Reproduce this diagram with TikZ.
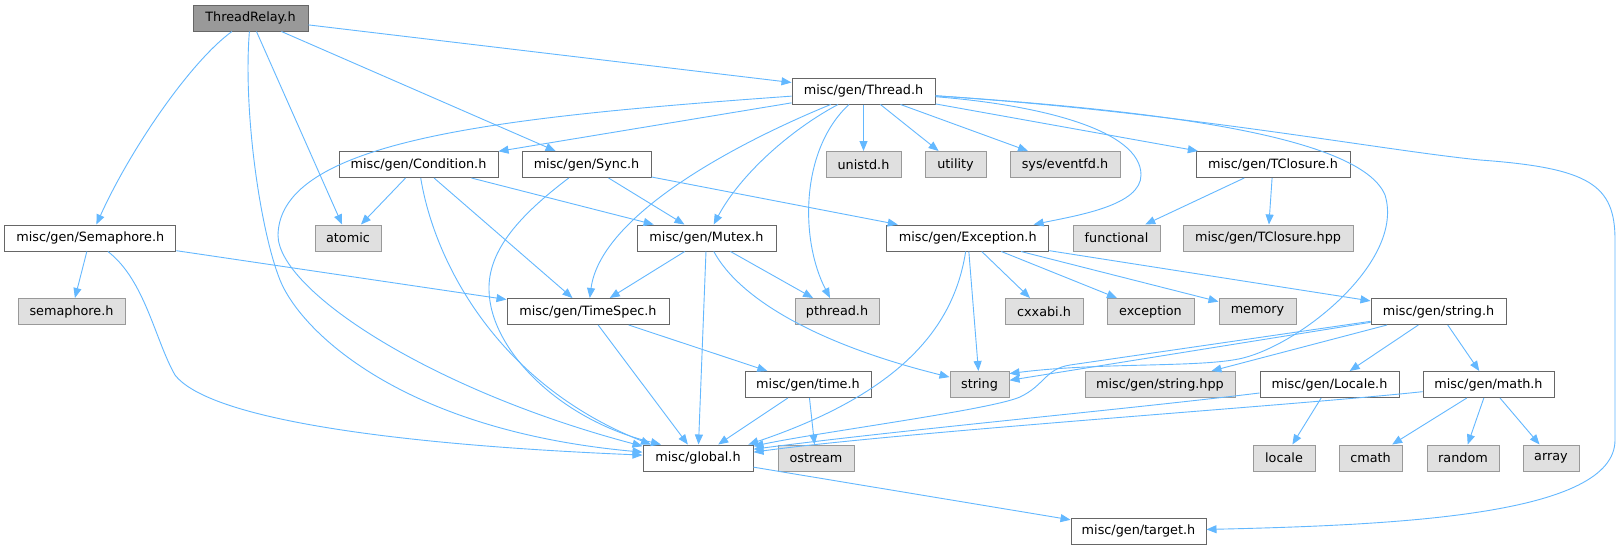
\documentclass[tikz,border=0pt]{standalone}
\usepackage{fontspec}
\setmainfont{DejaVu Sans}
\usetikzlibrary{arrows.meta}
\definecolor{edgec}{HTML}{63B8FF}
\definecolor{bdark}{HTML}{666666}
\definecolor{bgray}{HTML}{999999}
\definecolor{fgray}{HTML}{E0E0E0}
\begin{document}
\begin{tikzpicture}[x=1pt,y=-1pt,
  box/.style={draw=bdark, fill=white, line width=1pt, minimum height=26pt, inner xsep=4pt, inner ysep=0pt, font=\fontsize{12.8}{15}\selectfont, text=black},
  sys/.style={box, draw=bgray, fill=fgray},
  root/.style={box, draw=bdark, fill=bgray},
  e/.style={draw=edgec, line width=0.9pt, -{Triangle[length=10pt,width=8pt]}}]
\useasboundingbox[fill=white] (0,0) rectangle (1622,549);
% row 1
\node[root, minimum width=115pt] (tr) at (250.5,18) {ThreadRelay.h};
% row 2
\node[box, minimum width=143pt] (thr) at (863.5,91) {misc/gen/Thread.h};
% row 3
\node[box, minimum width=159pt] (cond) at (418.5,164.5) {misc/gen/Condition.h};
\node[box, minimum width=129pt] (sync) at (586.5,164.5) {misc/gen/Sync.h};
\node[sys, minimum width=75pt] (unistd) at (863.5,164.5) {unistd.h};
\node[sys, minimum width=61pt] (utility) at (955.5,164.5) {utility};
\node[sys, minimum width=110pt] (eventfd) at (1065,164.5) {sys/eventfd.h};
\node[box, minimum width=154pt] (tclos) at (1273,164.5) {misc/gen/TClosure.h};
% row 4
\node[box, minimum width=171pt] (sem) at (90.3,238) {misc/gen/Semaphore.h};
\node[sys, minimum width=66pt] (atomic) at (348,238) {atomic};
\node[box, minimum width=139pt] (mutex) at (706.5,238) {misc/gen/Mutex.h};
\node[box, minimum width=162pt] (exc) at (967.75,238) {misc/gen/Exception.h};
\node[sys, minimum width=87pt] (functional) at (1116.5,238) {functional};
\node[sys, minimum width=170pt] (tclhpp) at (1268,238) {misc/gen/TClosure.hpp};
% row 5
\node[sys, minimum width=107pt] (semh) at (71.5,311.5) {semaphore.h};
\node[box, minimum width=162pt] (timespec) at (588,311.5) {misc/gen/TimeSpec.h};
\node[sys, minimum width=84pt] (pthread) at (837,311.5) {pthread.h};
\node[sys, minimum width=78pt] (cxxabi) at (1044,311.5) {cxxabi.h};
\node[sys, minimum width=87pt] (exception) at (1150.5,311.5) {exception};
\node[sys, minimum width=77pt] (memory) at (1257.5,311.5) {memory};
\node[box, minimum width=135pt] (strh) at (1438.5,311.5) {misc/gen/string.h};
% row 6
\node[box, minimum width=126pt] (time) at (808,384.5) {misc/gen/time.h};
\node[sys, minimum width=59pt] (string) at (979.5,384.5) {string};
\node[sys, minimum width=150pt] (strhpp) at (1160,384.5) {misc/gen/string.hpp};
\node[box, minimum width=139pt] (localeh) at (1329.5,384.5) {misc/gen/Locale.h};
\node[box, minimum width=131pt] (math) at (1488.5,384.5) {misc/gen/math.h};
% row 7
\node[box, minimum width=110pt] (global) at (698,458) {misc/global.h};
\node[sys, minimum width=76pt] (ostream) at (816,458) {ostream};
\node[sys, minimum width=62pt] (localen) at (1284,458) {locale};
\node[sys, minimum width=63pt] (cmath) at (1370.5,458) {cmath};
\node[sys, minimum width=72pt] (random) at (1463,458) {random};
\node[sys, minimum width=56pt] (array) at (1551,458) {array};
% row 8
\node[box, minimum width=135pt] (target) at (1138.5,531) {misc/gen/target.h};

% edges from ThreadRelay.h
\draw[e] (tr) -- (thr);
\draw[e] (tr) .. controls (190,62) and (130,150) .. (sem);
\draw[e] (tr) .. controls (243,110) and (260,230) .. (280,280) .. controls (300,330) and (400,430) .. (global.174);
\draw[e] (tr) -- (atomic);
\draw[e] (tr) -- (sync);

% edges from Thread.h
\draw[e] (thr) -- (cond);
\draw[e] (thr) .. controls (500,117) and (280,140) .. (278,235) .. controls (278,290) and (430,390) .. (global.168);
\draw[e] (thr) .. controls (720,150) and (600,220) .. (timespec);
\draw[e] (thr) .. controls (790,130) and (740,175) .. (mutex);
\draw[e] (thr) .. controls (800,150) and (800,240) .. (pthread);
\draw[e] (thr) -- (unistd);
\draw[e] (thr) -- (utility);
\draw[e] (thr) -- (eventfd);
\draw[e] (thr) -- (tclos);
\draw[e] (thr) .. controls (1040,105) and (1141,130) .. (1141,175) .. controls (1141,205) and (1080,215) .. (exc);
\draw[e] (thr) .. controls (1150,110) and (1360,135) .. (1385,195) .. controls (1405,260) and (1303,343) .. (1243,358) .. controls (1203,368) and (1100,362) .. (string.20);
\draw[e] (thr) .. controls (1180,112) and (1380,150) .. (1480,160) .. controls (1590,168) and (1615,185) .. (1615,240) -- (1615,440) .. controls (1615,515) and (1400,525) .. (target);

% edges from Condition.h
\draw[e] (cond) -- (atomic);
\draw[e] (cond) .. controls (435,265) and (500,385) .. (global.164);
\draw[e] (cond) -- (timespec);
\draw[e] (cond) -- (mutex);

% edges from Sync.h
\draw[e] (sync) .. controls (520,215) and (488,250) .. (489,290) .. controls (490,350) and (560,420) .. (global.160);
\draw[e] (sync) -- (mutex);
\draw[e] (sync) -- (exc);

% edges from Semaphore.h
\draw[e] (sem) -- (semh);
\draw[e] (sem) .. controls (145,280) and (155,340) .. (175,375) .. controls (210,420) and (400,445) .. (global.177);
\draw[e] (sem) -- (timespec);

% edges from Mutex.h
\draw[e] (mutex) -- (timespec);
\draw[e] (mutex) -- (global);
\draw[e] (mutex) -- (pthread);
\draw[e] (mutex) .. controls (740,300) and (820,345) .. (string);

% edges from Exception.h
\draw[e] (exc) .. controls (955,320) and (910,390) .. (global.15);
\draw[e] (exc) -- (string);
\draw[e] (exc) -- (cxxabi);
\draw[e] (exc) -- (exception);
\draw[e] (exc) -- (memory);
\draw[e] (exc) -- (strh);

% edges from TClosure.h
\draw[e] (tclos) -- (functional);
\draw[e] (tclos) -- (tclhpp);

% edges from TimeSpec.h
\draw[e] (timespec) -- (global);
\draw[e] (timespec) -- (time);

% edges from time.h
\draw[e] (time) -- (global);
\draw[e] (time) -- (ostream);

% edges from string.h
\draw[e] (strh) -- (string.8);
\draw[e] (strh) -- (1070,365) .. controls (1045,369) and (1045,385) .. (1020,397) .. controls (990,410) and (820,432) .. (global.12);
\draw[e] (strh) -- (strhpp);
\draw[e] (strh) -- (localeh);
\draw[e] (strh) -- (math);

% edges from Locale.h
\draw[e] (localeh) .. controls (1120,410) and (900,430) .. (global.9);
\draw[e] (localeh) -- (localen);

% edges from math.h
\draw[e] (math) .. controls (1300,405) and (900,432) .. (global.6);
\draw[e] (math) -- (cmath);
\draw[e] (math) -- (random);
\draw[e] (math) -- (array);

% edge from global.h
\draw[e] (global) -- (target);
\end{tikzpicture}
\end{document}
